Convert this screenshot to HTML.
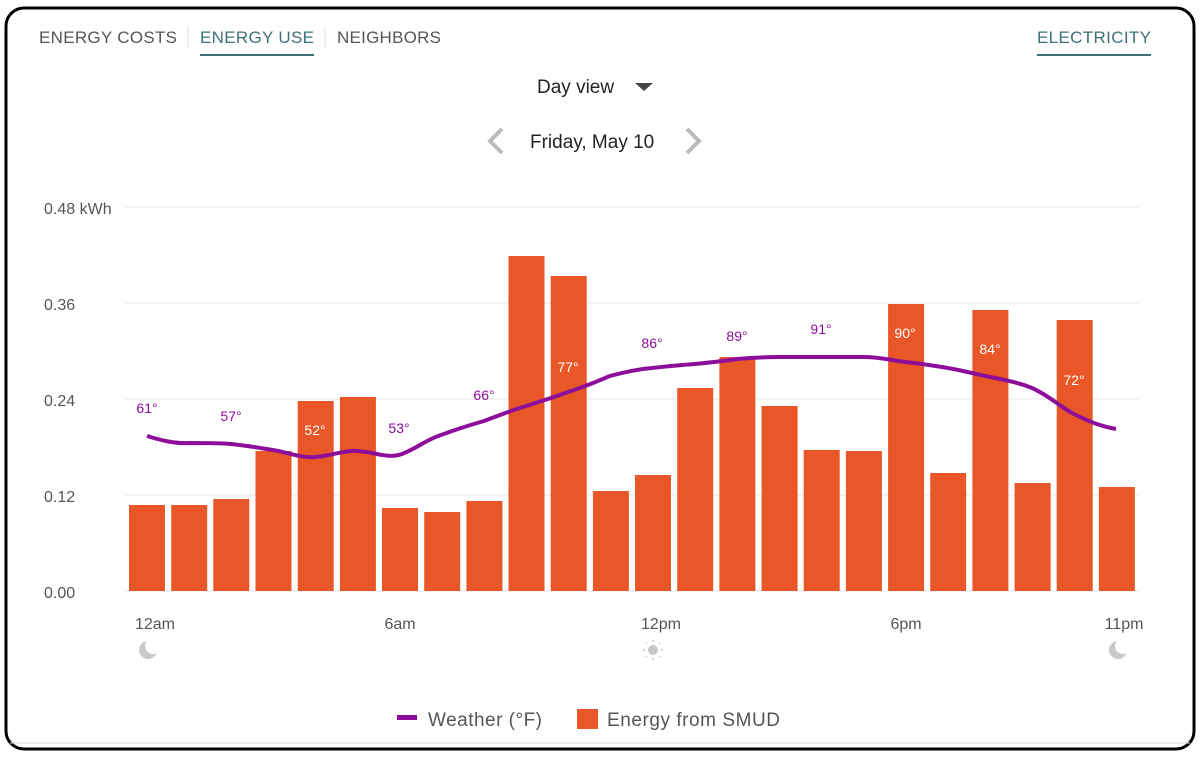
<!DOCTYPE html>
<html><head><meta charset="utf-8"><style>
body{margin:0;width:1203px;height:757px;background:#fff;font-family:"Liberation Sans",sans-serif;overflow:hidden}
</style></head><body>
<svg width="1203" height="757" xmlns="http://www.w3.org/2000/svg" font-family="Liberation Sans, sans-serif">
<rect x="6" y="8" width="1188" height="741" rx="18" fill="#fff" stroke="#000" stroke-width="3"/>
<line x1="10" y1="743" x2="1190" y2="743" stroke="#ddd" stroke-width="1"/>
<g font-size="17" fill="#555">
<text x="39" y="43" textLength="138">ENERGY COSTS</text>
<text x="200" y="43" fill="#3e7177" textLength="114">ENERGY USE</text>
<text x="337" y="43" textLength="104">NEIGHBORS</text>
<text x="1037" y="43" fill="#3e7177" textLength="114">ELECTRICITY</text>
</g>
<line x1="188" y1="26" x2="188" y2="49" stroke="#ddd"/>
<line x1="325" y1="26" x2="325" y2="49" stroke="#ddd"/>
<rect x="200" y="54" width="114" height="2" fill="#3e7177"/>
<rect x="1037" y="54" width="114" height="2" fill="#3e7177"/>
<text x="537" y="93" font-size="19" fill="#222">Day view</text>
<polygon points="635,83 653,83 644,91" fill="#444"/>
<text x="530" y="148" font-size="19" fill="#222">Friday, May 10</text>
<polyline points="502,129 490,141 502,153" fill="none" stroke="#bbb" stroke-width="4"/>
<polyline points="687,129 699,141 687,153" fill="none" stroke="#bbb" stroke-width="4"/>
<g stroke="#e4e4e4" stroke-width="1">
<line x1="126" y1="207" x2="1138" y2="207"/><line x1="126" y1="303" x2="1138" y2="303"/>
<line x1="126" y1="399" x2="1138" y2="399"/><line x1="126" y1="495" x2="1138" y2="495"/>
<line x1="126" y1="591" x2="1138" y2="591"/>
</g>
<g font-size="16" fill="#555">
<text x="44" y="214">0.48 kWh</text><text x="44" y="310">0.36</text><text x="44" y="406">0.24</text><text x="44" y="502">0.12</text><text x="44" y="598">0.00</text>
<text x="155" y="629" text-anchor="middle">12am</text><text x="400" y="629" text-anchor="middle">6am</text>
<text x="661" y="629" text-anchor="middle">12pm</text><text x="906" y="629" text-anchor="middle">6pm</text><text x="1124" y="629" text-anchor="middle">11pm</text>
</g>
<g fill="#e95628">
<rect x="129" y="505" width="36" height="86"/>
<rect x="171.2" y="505" width="36" height="86"/>
<rect x="213.3" y="499" width="36" height="92"/>
<rect x="255.5" y="451" width="36" height="140"/>
<rect x="297.7" y="401" width="36" height="190"/>
<rect x="339.9" y="397" width="36" height="194"/>
<rect x="382" y="508" width="36" height="83"/>
<rect x="424.2" y="512" width="36" height="79"/>
<rect x="466.4" y="501" width="36" height="90"/>
<rect x="508.5" y="256" width="36" height="335"/>
<rect x="550.7" y="276" width="36" height="315"/>
<rect x="592.9" y="491" width="36" height="100"/>
<rect x="635" y="475" width="36" height="116"/>
<rect x="677.2" y="388" width="36" height="203"/>
<rect x="719.4" y="357" width="36" height="234"/>
<rect x="761.6" y="406" width="36" height="185"/>
<rect x="803.7" y="450" width="36" height="141"/>
<rect x="845.9" y="451" width="36" height="140"/>
<rect x="888.1" y="304" width="36" height="287"/>
<rect x="930.2" y="473" width="36" height="118"/>
<rect x="972.4" y="310" width="36" height="281"/>
<rect x="1014.6" y="483" width="36" height="108"/>
<rect x="1056.7" y="320" width="36" height="271"/>
<rect x="1098.9" y="487" width="36" height="104"/>
</g>
<path d="M147,436 C160,440 175,444 189,443 C205,443 220,443 231,444 C250,446 260,448 273,450 C290,453 300,458 315,457 C330,456 345,450 357,451 C375,452 385,458 399,455 C415,450 425,440 441,435 C460,428 470,425 484,421 C500,415 510,411 526,406 C545,400 555,397 568,392 C590,385 600,380 610,376 C625,372 640,369 652,368 C670,366 680,365 695,364 C715,362 725,361 737,359 C760,357 770,357 779,357 C800,357 810,357 821,357 C840,357 850,357 863,357 C880,357 890,360 905,362 C925,364 935,366 948,368 C965,371 975,374 990,377 C1010,381 1020,383 1032,388 C1050,396 1060,407 1074,414 C1090,422 1100,426 1116,429" fill="none" stroke="#8e0e9c" stroke-width="4"/>
<g font-size="14" text-anchor="middle" fill="#8e0e9c">
<text x="147" y="413">61°</text><text x="231" y="421">57°</text><text x="315" y="435" fill="#fff">52°</text>
<text x="399" y="433">53°</text><text x="484" y="400">66°</text><text x="568" y="372" fill="#fff">77°</text>
<text x="652" y="348">86°</text><text x="737" y="341">89°</text><text x="821" y="334">91°</text>
<text x="905" y="338" fill="#fff">90°</text><text x="990" y="354" fill="#fff">84°</text><text x="1074" y="385" fill="#fff">72°</text>
</g>
<g fill="#c8c8c8">
<circle cx="148" cy="650" r="9"/><circle cx="153" cy="646" r="8" fill="#fff"/>
<circle cx="1118" cy="650" r="9"/><circle cx="1123" cy="646" r="8" fill="#fff"/>
<circle cx="653" cy="650" r="5"/>
</g>
<g stroke="#c8c8c8" stroke-width="1.5">
<line x1="653" y1="640" x2="653" y2="642"/><line x1="653" y1="658" x2="653" y2="660"/>
<line x1="643" y1="650" x2="645" y2="650"/><line x1="661" y1="650" x2="663" y2="650"/>
<line x1="646" y1="643" x2="647" y2="644"/><line x1="659" y1="656" x2="660" y2="657"/>
<line x1="660" y1="643" x2="659" y2="644"/><line x1="646" y1="657" x2="647" y2="656"/>
</g>
<rect x="397" y="715" width="20" height="5" fill="#8e0e9c"/>
<text x="428" y="726" font-size="19" fill="#555" textLength="114">Weather (°F)</text>
<rect x="577" y="709" width="21" height="20" fill="#e95628"/>
<text x="607" y="726" font-size="19" fill="#555" textLength="173">Energy from SMUD</text>
</svg>
</body></html>
